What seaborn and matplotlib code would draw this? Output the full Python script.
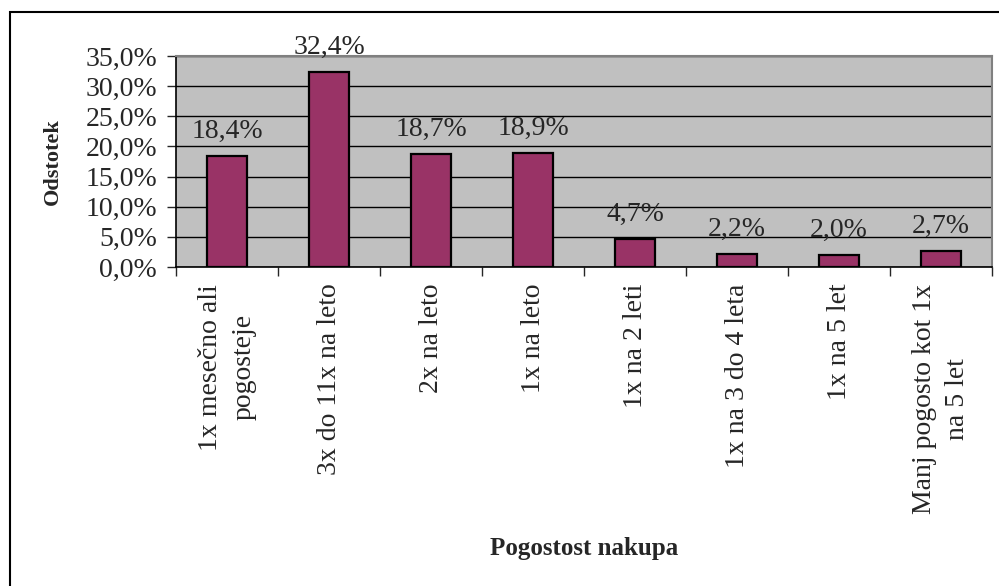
import matplotlib
matplotlib.use("Agg")
import matplotlib.pyplot as plt
import matplotlib.patches as patches
from matplotlib.ticker import FuncFormatter, FixedLocator
import seaborn as sns
import pandas as pd

categories = [
    "1x mesečno ali\npogosteje",
    "3x do 11x na leto",
    "2x na leto",
    "1x na leto",
    "1x na 2 leti",
    "1x na 3 do 4 leta",
    "1x na 5 let",
    "Manj pogosto kot 1x\nna 5 let",
]
shares = [18.4, 32.4, 18.7, 18.9, 4.7, 2.2, 2.0, 2.7]
value_labels = ["18,4%", "32,4%", "18,7%", "18,9%", "4,7%", "2,2%", "2,0%", "2,7%"]
y_ticks = [0, 5, 10, 15, 20, 25, 30, 35]

sns.set_style("white")
plt.rcParams["font.family"] = ["Liberation Serif", "DejaVu Serif"]

df = pd.DataFrame({"kategorija": categories, "delez": shares})

fig = plt.figure(figsize=(9.99, 5.86), dpi=100)
ax = fig.add_axes([176 / 999, 1 - 267 / 586, (992 - 176) / 999, (267 - 56) / 586])
ax.set_facecolor("#C0C0C0")

sns.barplot(data=df, x="kategorija", y="delez", color="#993366", width=0.4,
            edgecolor="black", linewidth=1.6, saturation=1, ax=ax, zorder=3)

ax.set_ylim(0, 35)
ax.set_xlim(-0.5, len(categories) - 0.5)
ax.yaxis.set_major_locator(FixedLocator(y_ticks))
ax.yaxis.set_major_formatter(FuncFormatter(lambda v, p: f"{v:.1f}%".replace(".", ",")))
ax.grid(axis="y", color="black", linewidth=1.0, zorder=1)
ax.set_axisbelow(True)

ax.tick_params(axis="y", direction="out", length=6.5, width=1, labelsize=20, pad=7, left=True)
ax.tick_params(axis="x", which="major", length=0, labelsize=20, pad=12)
ax.set_xticks(range(len(categories)))
ax.set_xticklabels(categories, rotation=90, ha="center", va="top",
                   multialignment="center", linespacing=1.45)
ax.set_xticks([i - 0.5 for i in range(len(categories) + 1)], minor=True)
ax.tick_params(axis="x", which="minor", direction="out", length=6.5, width=1, bottom=True)

for side in ["left", "bottom"]:
    ax.spines[side].set_color("black")
    ax.spines[side].set_linewidth(1.2)
for side in ["top", "right"]:
    ax.spines[side].set_color("#808080")
    ax.spines[side].set_linewidth(1.5)

for i, (v, lab) in enumerate(zip(shares, value_labels)):
    ax.annotate(lab, (i, v), xytext=(0, 13), textcoords="offset points",
                ha="center", va="baseline", fontsize=20, clip_on=False)

ax.set_xlabel("Pogostost nakupa", fontsize=18, fontweight="bold")
ax.set_ylabel("Odstotek", fontsize=16, fontweight="bold")
ax.xaxis.set_label_coords(0.5, -(548 - 267) / 211)
ax.yaxis.set_label_coords(-(176 - 53) / 816, 0.5)
ax.xaxis.label.set_va("center")
ax.yaxis.label.set_va("center")

fig.patches.append(patches.Rectangle((10 / 999, -0.1), 1.2, 1 - 12 / 586 + 0.1,
                                     transform=fig.transFigure, fill=False,
                                     edgecolor="black", linewidth=1.5))

fig.savefig("out.png", dpi=100)
